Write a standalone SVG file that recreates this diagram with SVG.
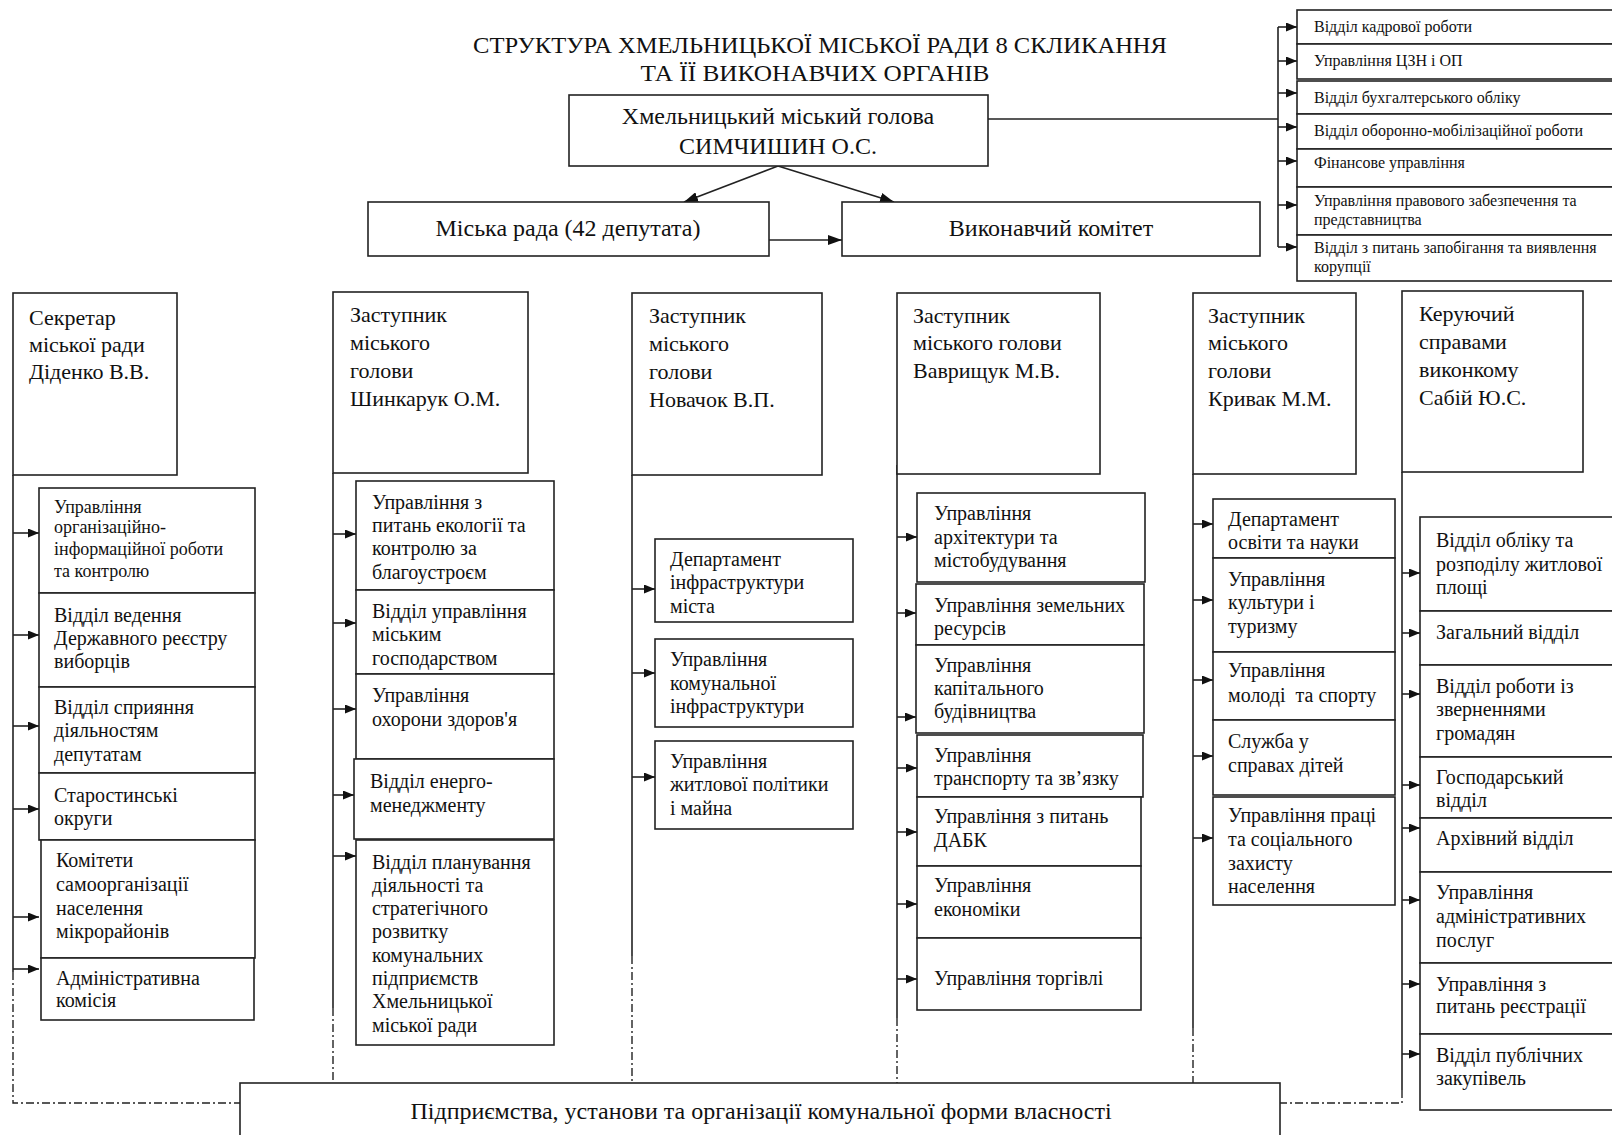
<svg xmlns="http://www.w3.org/2000/svg" width="1612" height="1135" viewBox="0 0 1612 1135">
<defs>
<style>
.box{fill:#fff;stroke:#222;stroke-width:1.6}
.ln{fill:none;stroke:#222;stroke-width:1.6}
.dd{fill:none;stroke:#222;stroke-width:1.4;stroke-dasharray:8 3 2 3}
text{font-family:"Liberation Serif","DejaVu Serif",serif;fill:#111}
.t24{font-size:24px}
.t22{font-size:22px}
.t20{font-size:20px}
.t18{font-size:18px}
.t16{font-size:16px}
.mid{text-anchor:middle}
</style>
<marker id="ah" markerWidth="11" markerHeight="9" refX="11" refY="4.5" orient="auto" markerUnits="userSpaceOnUse"><path d="M0,0 L11,4.5 L0,9 z" fill="#111"/></marker>
<marker id="ahb" markerWidth="14" markerHeight="10" refX="14" refY="5" orient="auto" markerUnits="userSpaceOnUse"><path d="M0,0 L14,5 L0,10 z" fill="#111"/></marker>
</defs>
<rect width="1612" height="1135" fill="#fff"/>

<g id="title">
<text class="t24 mid" x="820" y="53" textLength="694" lengthAdjust="spacingAndGlyphs">СТРУКТУРА ХМЕЛЬНИЦЬКОЇ МІСЬКОЇ РАДИ 8 СКЛИКАННЯ</text>
<text class="t24 mid" x="815" y="81" textLength="349" lengthAdjust="spacingAndGlyphs">ТА ЇЇ ВИКОНАВЧИХ ОРГАНІВ</text>
</g>

<g id="connectors">
<path class="ln" d="M778,166 L684,202" marker-end="url(#ahb)"/>
<path class="ln" d="M778,166 L894,202" marker-end="url(#ahb)"/>
<path class="ln" d="M769,240 L842,240" marker-end="url(#ahb)"/>
<path class="ln" d="M988,119 L1278,119 M1278,27 L1278,247"/>
<g marker-end="url(#ah)" class="ln">
<line x1="1278" y1="27" x2="1297" y2="27"/><line x1="1278" y1="61" x2="1297" y2="61"/><line x1="1278" y1="93" x2="1297" y2="93"/><line x1="1278" y1="127" x2="1297" y2="127"/><line x1="1278" y1="161" x2="1297" y2="161"/><line x1="1278" y1="205" x2="1297" y2="205"/><line x1="1278" y1="247" x2="1297" y2="247"/>
</g>
<path class="ln" d="M13,475 L13,972 M333,473 L333,1008 M632,475 L632,956 M897,465 L897,1018 M1193,474 L1193,1028 M1402,472 L1402,1090"/>
<path class="dd" d="M13,972 L13,1103 L240,1103 M333,1008 L333,1083 M632,956 L632,1083 M897,1018 L897,1083 M1193,1028 L1193,1083 M1402,1090 L1402,1103 L1280,1103"/>
<g marker-end="url(#ah)" class="ln">
<line x1="13" y1="533" x2="39" y2="533"/><line x1="13" y1="635" x2="39" y2="635"/><line x1="13" y1="726" x2="39" y2="726"/><line x1="13" y1="809" x2="39" y2="809"/><line x1="13" y1="917" x2="39" y2="917"/><line x1="13" y1="969" x2="39" y2="969"/>
<line x1="333" y1="534" x2="356" y2="534"/><line x1="333" y1="623" x2="356" y2="623"/><line x1="333" y1="709" x2="356" y2="709"/><line x1="333" y1="795" x2="354" y2="795"/><line x1="333" y1="856" x2="356" y2="856"/>
<line x1="632" y1="589" x2="655" y2="589"/><line x1="632" y1="673" x2="655" y2="673"/><line x1="632" y1="777" x2="655" y2="777"/>
<line x1="897" y1="537" x2="917" y2="537"/><line x1="897" y1="613" x2="916" y2="613"/><line x1="897" y1="717" x2="916" y2="717"/><line x1="897" y1="768" x2="917" y2="768"/><line x1="897" y1="832" x2="917" y2="832"/><line x1="897" y1="904" x2="917" y2="904"/><line x1="897" y1="979" x2="917" y2="979"/>
<line x1="1193" y1="524" x2="1213" y2="524"/><line x1="1193" y1="600" x2="1213" y2="600"/><line x1="1193" y1="680" x2="1213" y2="680"/><line x1="1193" y1="756" x2="1213" y2="756"/><line x1="1193" y1="838" x2="1213" y2="838"/>
<line x1="1402" y1="573" x2="1420" y2="573"/><line x1="1402" y1="633" x2="1420" y2="633"/><line x1="1402" y1="694" x2="1420" y2="694"/><line x1="1402" y1="785" x2="1420" y2="785"/><line x1="1402" y1="828" x2="1420" y2="828"/><line x1="1402" y1="900" x2="1420" y2="900"/><line x1="1402" y1="984" x2="1420" y2="984"/><line x1="1402" y1="1054" x2="1420" y2="1054"/>
</g>
</g>

<g id="mayor"><rect class="box" x="569" y="95" width="419" height="71"/>
<text class="t24 mid" x="778" y="124">Хмельницький міський голова</text>
<text class="t24 mid" x="778" y="154">СИМЧИШИН О.С.</text></g>

<g id="council"><rect class="box" x="368" y="202" width="401" height="54"/>
<text class="t24 mid" x="568" y="236">Міська рада (42 депутата)</text></g>

<g id="executive"><rect class="box" x="842" y="202" width="418" height="54"/>
<text class="t24 mid" x="1051" y="236">Виконавчий комітет</text></g>

<g id="top-right">
<g id="tr1"><rect class="box" x="1297" y="10" width="330" height="34"/><text class="t16" x="1314" y="32">Відділ кадрової роботи</text></g>
<g id="tr2"><rect class="box" x="1297" y="44" width="330" height="35"/><text class="t16" x="1314" y="66">Управління ЦЗН і ОП</text></g>
<g id="tr3"><rect class="box" x="1297" y="81" width="330" height="33"/><text class="t16" x="1314" y="103">Відділ бухгалтерського обліку</text></g>
<g id="tr4"><rect class="box" x="1297" y="114" width="330" height="35"/><text class="t16" x="1314" y="136">Відділ оборонно-мобілізаційної роботи</text></g>
<g id="tr5"><rect class="box" x="1297" y="149" width="330" height="38"/><text class="t16" x="1314" y="168">Фінансове управління</text></g>
<g id="tr6"><rect class="box" x="1297" y="187" width="330" height="48"/><text class="t16" x="1314" y="206">Управління правового забезпечення та</text><text class="t16" x="1314" y="225">представництва</text></g>
<g id="tr7"><rect class="box" x="1297" y="235" width="330" height="46"/><text class="t16" x="1314" y="253">Відділ з питань запобігання та виявлення</text><text class="t16" x="1314" y="272">корупції</text></g>
</g>

<g id="col1">
<g id="secretary"><rect class="box" x="13" y="293" width="164" height="182"/>
<text class="t22" x="29" y="325">Секретар</text><text class="t22" x="29" y="352">міської ради</text><text class="t22" x="29" y="379">Діденко В.В.</text></g>
<g id="c1b1"><rect class="box" x="39" y="488" width="216" height="105"/>
<text class="t18" x="54" y="513">Управління</text><text class="t18" x="54" y="533">організаційно-</text><text class="t18" x="54" y="555">інформаційної роботи</text><text class="t18" x="54" y="577">та контролю</text></g>
<g id="c1b2"><rect class="box" x="39" y="593" width="216" height="94"/>
<text class="t20" x="54" y="622">Відділ ведення</text><text class="t20" x="54" y="645">Державного реєстру</text><text class="t20" x="54" y="668">виборців</text></g>
<g id="c1b3"><rect class="box" x="39" y="687" width="216" height="86"/>
<text class="t20" x="54" y="714">Відділ сприяння</text><text class="t20" x="54" y="737">діяльностям</text><text class="t20" x="54" y="761">депутатам</text></g>
<g id="c1b4"><rect class="box" x="39" y="773" width="216" height="67"/>
<text class="t20" x="54" y="802">Старостинські</text><text class="t20" x="54" y="825">округи</text></g>
<g id="c1b5"><rect class="box" x="41" y="840" width="214" height="118"/>
<text class="t20" x="56" y="867">Комітети</text><text class="t20" x="56" y="891">самоорганізації</text><text class="t20" x="56" y="915">населення</text><text class="t20" x="56" y="938">мікрорайонів</text></g>
<g id="c1b6"><rect class="box" x="41" y="958" width="213" height="62"/>
<text class="t20" x="56" y="985">Адміністративна</text><text class="t20" x="56" y="1007">комісія</text></g>
</g>

<g id="col2">
<g id="shynkaruk"><rect class="box" x="333" y="292" width="195" height="181"/>
<text class="t22" x="350" y="322">Заступник</text><text class="t22" x="350" y="350">міського</text><text class="t22" x="350" y="378">голови</text><text class="t22" x="350" y="406">Шинкарук О.М.</text></g>
<g id="c2b1"><rect class="box" x="356" y="481" width="198" height="109"/>
<text class="t20" x="372" y="509">Управління з</text><text class="t20" x="372" y="532">питань екології та</text><text class="t20" x="372" y="555">контролю за</text><text class="t20" x="372" y="579">благоустроєм</text></g>
<g id="c2b2"><rect class="box" x="356" y="590" width="198" height="84"/>
<text class="t20" x="372" y="618">Відділ управління</text><text class="t20" x="372" y="641">міським</text><text class="t20" x="372" y="665">господарством</text></g>
<g id="c2b3"><rect class="box" x="356" y="674" width="198" height="85"/>
<text class="t20" x="372" y="702">Управління</text><text class="t20" x="372" y="726">охорони здоров'я</text></g>
<g id="c2b4"><rect class="box" x="354" y="759" width="200" height="80"/>
<text class="t20" x="370" y="788">Відділ енерго-</text><text class="t20" x="370" y="812">менеджменту</text></g>
<g id="c2b5"><rect class="box" x="356" y="840" width="198" height="205"/>
<text class="t20" x="372" y="869">Відділ планування</text><text class="t20" x="372" y="892">діяльності та</text><text class="t20" x="372" y="915">стратегічного</text><text class="t20" x="372" y="938">розвитку</text><text class="t20" x="372" y="962">комунальних</text><text class="t20" x="372" y="985">підприємств</text><text class="t20" x="372" y="1008">Хмельницької</text><text class="t20" x="372" y="1032">міської ради</text></g>
</g>

<g id="col3">
<g id="novachok"><rect class="box" x="632" y="293" width="190" height="182"/>
<text class="t22" x="649" y="323">Заступник</text><text class="t22" x="649" y="351">міського</text><text class="t22" x="649" y="379">голови</text><text class="t22" x="649" y="407">Новачок В.П.</text></g>
<g id="c3b1"><rect class="box" x="655" y="539" width="198" height="83"/>
<text class="t20" x="670" y="566">Департамент</text><text class="t20" x="670" y="589">інфраструктури</text><text class="t20" x="670" y="613">міста</text></g>
<g id="c3b2"><rect class="box" x="655" y="639" width="198" height="88"/>
<text class="t20" x="670" y="666">Управління</text><text class="t20" x="670" y="690">комунальної</text><text class="t20" x="670" y="713">інфраструктури</text></g>
<g id="c3b3"><rect class="box" x="655" y="741" width="198" height="88"/>
<text class="t20" x="670" y="768">Управління</text><text class="t20" x="670" y="791">житлової політики</text><text class="t20" x="670" y="815">і майна</text></g>
</g>

<g id="col4">
<g id="vavryshchuk"><rect class="box" x="897" y="293" width="203" height="181"/>
<text class="t22" x="913" y="323">Заступник</text><text class="t22" x="913" y="350">міського голови</text><text class="t22" x="913" y="378">Ваврищук М.В.</text></g>
<g id="c4b1"><rect class="box" x="917" y="493" width="228" height="89"/>
<text class="t20" x="934" y="520">Управління</text><text class="t20" x="934" y="544">архітектури та</text><text class="t20" x="934" y="567">містобудування</text></g>
<g id="c4b2"><rect class="box" x="916" y="584" width="228" height="61"/>
<text class="t20" x="934" y="612">Управління земельних</text><text class="t20" x="934" y="635">ресурсів</text></g>
<g id="c4b3"><rect class="box" x="916" y="645" width="228" height="88"/>
<text class="t20" x="934" y="672">Управління</text><text class="t20" x="934" y="695">капітального</text><text class="t20" x="934" y="718">будівництва</text></g>
<g id="c4b4"><rect class="box" x="917" y="735" width="226" height="62"/>
<text class="t20" x="934" y="762">Управління</text><text class="t20" x="934" y="785">транспорту та зв’язку</text></g>
<g id="c4b5"><rect class="box" x="917" y="797" width="224" height="69"/>
<text class="t20" x="934" y="823">Управління з питань</text><text class="t20" x="934" y="847">ДАБК</text></g>
<g id="c4b6"><rect class="box" x="917" y="866" width="224" height="72"/>
<text class="t20" x="934" y="892">Управління</text><text class="t20" x="934" y="916">економіки</text></g>
<g id="c4b7"><rect class="box" x="917" y="938" width="224" height="72"/>
<text class="t20" x="934" y="985">Управління торгівлі</text></g>
</g>

<g id="col5">
<g id="kryvak"><rect class="box" x="1193" y="293" width="163" height="181"/>
<text class="t22" x="1208" y="323">Заступник</text><text class="t22" x="1208" y="350">міського</text><text class="t22" x="1208" y="378">голови</text><text class="t22" x="1208" y="406">Кривак М.М.</text></g>
<g id="c5b1"><rect class="box" x="1213" y="499" width="182" height="59"/>
<text class="t20" x="1228" y="526">Департамент</text><text class="t20" x="1228" y="549">освіти та науки</text></g>
<g id="c5b2"><rect class="box" x="1213" y="558" width="182" height="94"/>
<text class="t20" x="1228" y="586">Управління</text><text class="t20" x="1228" y="609">культури і</text><text class="t20" x="1228" y="633">туризму</text></g>
<g id="c5b3"><rect class="box" x="1213" y="652" width="182" height="68"/>
<text class="t20" x="1228" y="677">Управління</text><text class="t20" x="1228" y="702" xml:space="preserve">молоді  та спорту</text></g>
<g id="c5b4"><rect class="box" x="1213" y="720" width="182" height="75"/>
<text class="t20" x="1228" y="748">Служба у</text><text class="t20" x="1228" y="772">справах дітей</text></g>
<g id="c5b5"><rect class="box" x="1213" y="797" width="182" height="108"/>
<text class="t20" x="1228" y="822">Управління праці</text><text class="t20" x="1228" y="846">та соціального</text><text class="t20" x="1228" y="870">захисту</text><text class="t20" x="1228" y="893">населення</text></g>
</g>

<g id="col6">
<g id="sabii"><rect class="box" x="1402" y="291" width="181" height="181"/>
<text class="t22" x="1419" y="321">Керуючий</text><text class="t22" x="1419" y="349">справами</text><text class="t22" x="1419" y="377">виконкому</text><text class="t22" x="1419" y="405">Сабій Ю.С.</text></g>
<g id="c6b1"><rect class="box" x="1420" y="517" width="210" height="94"/>
<text class="t20" x="1436" y="547">Відділ обліку та</text><text class="t20" x="1436" y="571">розподілу житлової</text><text class="t20" x="1436" y="594">площі</text></g>
<g id="c6b2"><rect class="box" x="1420" y="611" width="210" height="54"/>
<text class="t20" x="1436" y="639">Загальний відділ</text></g>
<g id="c6b3"><rect class="box" x="1420" y="665" width="210" height="92"/>
<text class="t20" x="1436" y="693">Відділ роботи із</text><text class="t20" x="1436" y="716">зверненнями</text><text class="t20" x="1436" y="740">громадян</text></g>
<g id="c6b4"><rect class="box" x="1420" y="757" width="210" height="61"/>
<text class="t20" x="1436" y="784">Господарський</text><text class="t20" x="1436" y="807">відділ</text></g>
<g id="c6b5"><rect class="box" x="1420" y="818" width="210" height="54"/>
<text class="t20" x="1436" y="845">Архівний відділ</text></g>
<g id="c6b6"><rect class="box" x="1420" y="872" width="210" height="91"/>
<text class="t20" x="1436" y="899">Управління</text><text class="t20" x="1436" y="923">адміністративних</text><text class="t20" x="1436" y="947">послуг</text></g>
<g id="c6b7"><rect class="box" x="1420" y="963" width="210" height="71"/>
<text class="t20" x="1436" y="991">Управління з</text><text class="t20" x="1436" y="1013">питань реєстрації</text></g>
<g id="c6b8"><rect class="box" x="1420" y="1034" width="210" height="76"/>
<text class="t20" x="1436" y="1062">Відділ публічних</text><text class="t20" x="1436" y="1085">закупівель</text></g>
</g>

<g id="enterprises"><rect class="box" x="240" y="1083" width="1040" height="60"/>
<text class="t24 mid" x="761" y="1119">Підприємства, установи та організації комунальної форми власності</text></g>
</svg>
